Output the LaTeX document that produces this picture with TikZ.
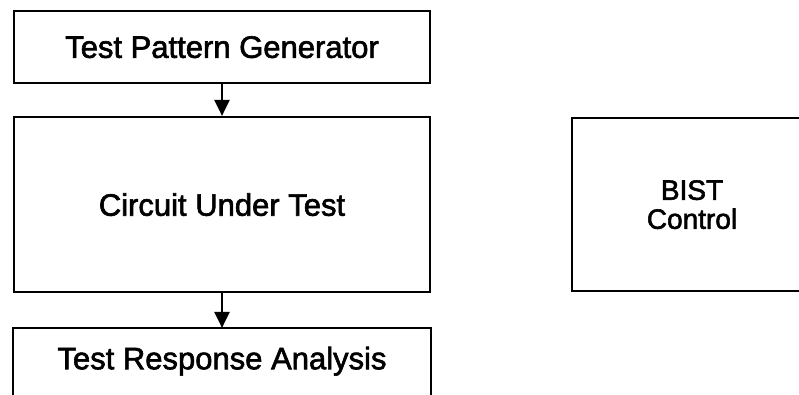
\documentclass[tikz,border=0pt]{standalone}
\usepackage{fontspec}
\setmainfont{Liberation Sans}
\newfontfamily\blkfont{Liberation Sans}[FakeBold=2]
\usetikzlibrary{arrows.meta}
\begin{document}
\begin{tikzpicture}[x=1pt,y=1pt,
  blk/.style={draw, line width=2.2pt, inner sep=0pt, text depth=0pt,
    font=\blkfont\fontsize{31}{36}\selectfont},
  flow/.style={line width=2.2pt, -{Triangle[width=15pt,length=16pt]}}]
\useasboundingbox (0,0) rectangle (799,-395);
\clip (0,0) rectangle (799,-395);
% main chain of blocks
\node[blk, minimum width=416, minimum height=72] (tpg) at (222,-47) {Test Pattern Generator};
\node[blk, minimum width=416, minimum height=175] (cut) at (222,-204.5) {Circuit Under Test};
\node[blk, draw=none, minimum width=416, minimum height=58] (tra) at (222,-358) {Test Response Analysis};
\draw[line width=2.2pt] ([yshift=-60]tra.south west) |- (tra.north east) -- ([yshift=-60]tra.south east);
% controller block
\node[blk, minimum width=240, minimum height=173, align=center,
  font=\blkfont\fontsize{28}{29}\selectfont] (bist) at (692,-204.5) {BIST\\Control};
% data flow
\draw[flow] (tpg) -- (cut);
\draw[flow] (cut) -- (tra);
\end{tikzpicture}
\end{document}
